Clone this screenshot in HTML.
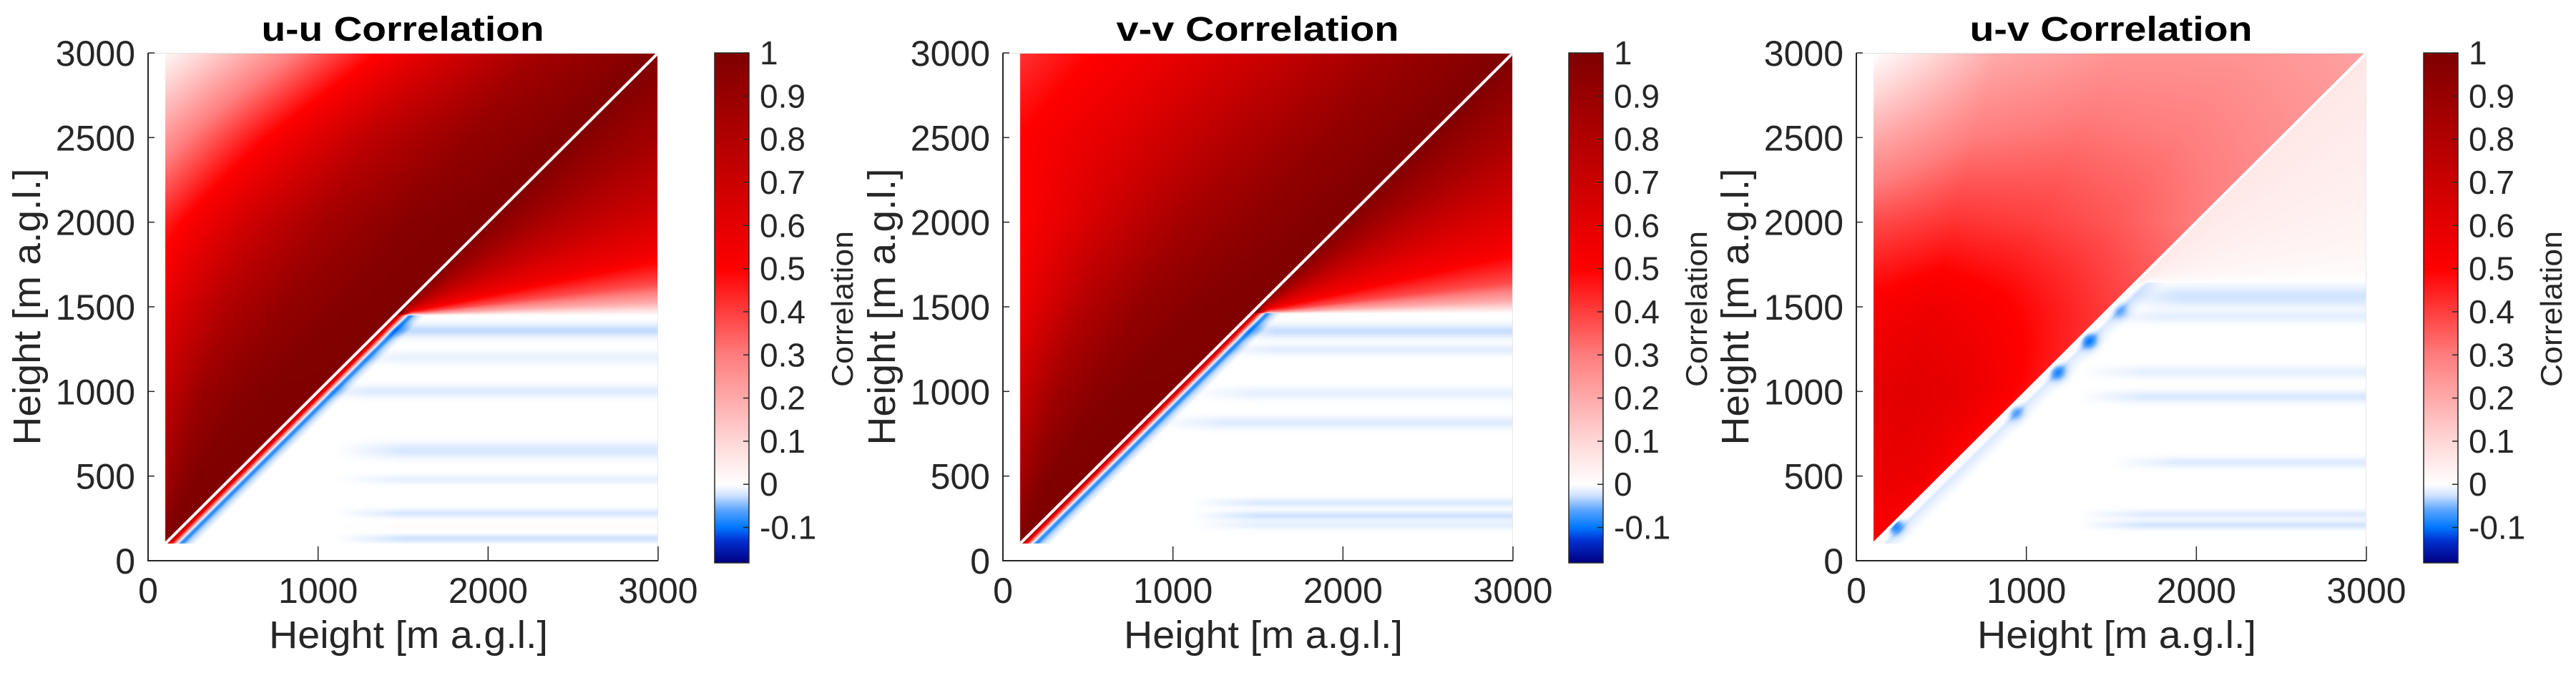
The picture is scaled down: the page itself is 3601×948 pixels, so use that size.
<!DOCTYPE html>
<html><head><meta charset="utf-8">
<style>
html,body{margin:0;padding:0;background:#fff;}
#root{position:relative;width:3601px;height:948px;overflow:hidden;background:#fff;}
canvas{position:absolute;}
svg{position:absolute;left:0;top:0;}
</style></head>
<body>
<div id="root">
<svg id="ov" width="3601" height="948"></svg>
</div>
<script>
// ---------- data ----------
const panelTitles = ["u-u Correlation","v-v Correlation","u-v Correlation"];
const xTicks = [0,1000,2000,3000];
const yTicks = [0,500,1000,1500,2000,2500,3000];
const cbTicks = [-0.1,0,0.1,0.2,0.3,0.4,0.5,0.6,0.7,0.8,0.9,1];
const cbTickLabels = ["-0.1","0","0.1","0.2","0.3","0.4","0.5","0.6","0.7","0.8","0.9","1"];
const cLimits = [-0.182, 1];
const upperRowHeights = [100,500,1000,1500,2000,2500,3000];
const upperColFrac = [0,0.25,0.5,0.75,1];
const uuUpper = [[1,1,1,1,1],[0.86,0.95,1,1,1],[0.73,0.9,0.97,1,1],[0.6,0.8,0.92,0.98,1],[0.45,0.68,0.86,0.97,1],[0.24,0.5,0.75,0.92,1],[0.02,0.28,0.58,0.85,1]];
const vvUpper = [[1,1,1,1,1],[0.85,0.95,1,1,1],[0.7,0.88,0.96,1,1],[0.56,0.78,0.92,0.98,1],[0.5,0.68,0.85,0.95,1],[0.5,0.62,0.78,0.92,1],[0.42,0.55,0.7,0.88,1]];
const uvUpper = [[0.5,0.5,0.5,0.5,0.5],[0.56,0.58,0.57,0.55,0.5],[0.6,0.62,0.6,0.55,0.48],[0.52,0.56,0.52,0.46,0.4],[0.38,0.42,0.4,0.36,0.3],[0.2,0.3,0.32,0.3,0.26],[0.0,0.2,0.25,0.25,0.22]];
const fanFrac = [0,0.05,0.12,0.25,0.45,0.7,1];
const uuFan = [0,0.2,0.38,0.56,0.72,0.87,1];
const vvFan = [0,0.2,0.38,0.53,0.68,0.85,1];
const uvFan = [0,0.01,0.02,0.03,0.04,0.05,0.06];
const cutHeights = [1450,1460,1640];
const stripeOffset = [0,30,60,75,95,120,180];
const uuStripe = [0.95,0.6,0.2,-0.03,-0.09,-0.04,0];
const vvStripe = [0.95,0.6,0.2,-0.03,-0.09,-0.04,0];
const uvStripe = [0.04,0.01,-0.01,-0.02,-0.015,-0.01,0];
const uuBandY = [1360,1200,1000,650,480,280,200,130];
const uuBandW = [40,35,35,45,25,25,25,25];
const uuBandV = [-0.03,-0.012,-0.018,-0.022,-0.014,-0.022,0.01,-0.026];
const uuBandX = [1500,1500,1300,1500,1500,1500,1500,1500];
const vvBandY = [1356,1246,989,815,342,266,211];
const vvBandW = [40,30,35,35,25,25,25];
const vvBandV = [-0.028,-0.016,-0.014,-0.018,-0.02,-0.026,-0.014];
const vvBandX = [1600,1600,1500,1300,1500,1500,1500];
const uvBandY = [1560,1441,1115,968,580,274,211];
const uvBandW = [60,35,35,35,30,25,25];
const uvBandV = [-0.025,-0.014,-0.014,-0.02,-0.018,-0.018,-0.024];
const uvBandX = [1900,1800,1700,1700,1900,1700,1700];
const uvBlobX = [1367,1182,934,223,1550];
const uvBlobY = [1301,1115,879,211,1480];
const uvBlobV = [-0.08,-0.07,-0.05,-0.1,-0.04];

const upperGrids=[uuUpper,vvUpper,uvUpper];
const fans=[uuFan,vvFan,uvFan];
const stripes=[uuStripe,vvStripe,uvStripe];
const bands=[[uuBandY,uuBandW,uuBandV,uuBandX],[vvBandY,vvBandW,vvBandV,vvBandX],[uvBandY,uvBandW,uvBandV,uvBandX]];
const blobs=[[[],[],[]],[[],[],[]],[uvBlobX,uvBlobY,uvBlobV]];

// ---------- layout ----------
const plotL=[207,1402,2595], plotW=713, plotT=74, plotB=784, plotH=plotB-plotT;
const cbL=[999,2193,3388], cbW=48, cbT=74, cbB=787;
const xs=v=>v/3000*plotW, ys=v=>plotB-v/3000*plotH;
const cy=v=>cbB-(v-cLimits[0])/(cLimits[1]-cLimits[0])*(cbB-cbT);

const cstops=[[-0.182,[0,0,128]],[-0.13,[0,50,210]],[-0.1,[0,120,255]],[-0.06,[90,165,255]],[-0.025,[210,228,255]],[0,[255,255,255]],[0.1,[255,215,215]],[0.3,[255,125,125]],[0.5,[255,0,0]],[0.75,[190,0,0]],[1,[128,0,0]]];
function cmap(v){
  if(v<=cstops[0][0])return cstops[0][1];
  for(let i=1;i<cstops.length;i++){if(v<=cstops[i][0]){const a=cstops[i-1],b=cstops[i],t=(v-a[0])/(b[0]-a[0]);return [a[1][0]+(b[1][0]-a[1][0])*t,a[1][1]+(b[1][1]-a[1][1])*t,a[1][2]+(b[1][2]-a[1][2])*t];}}
  return cstops[cstops.length-1][1];
}
function interp1(xa,ya,x){if(x<=xa[0])return ya[0];for(let i=1;i<xa.length;i++){if(x<=xa[i]){const t=(x-xa[i-1])/(xa[i]-xa[i-1]);return ya[i-1]+(ya[i]-ya[i-1])*t;}}return ya[ya.length-1];}
function upperVal(g,x,y){
  const s=Math.max(0,Math.min(1,(x-100)/Math.max(1,(y-100))));
  const col=upperRowHeights.map((h,i)=>interp1(upperColFrac,g[i],s));
  return interp1(upperRowHeights,col,y);
}
function lowerVal(p,x,y){
  const cut=cutHeights[p];let v=0;
  if(y>=cut){v=interp1(fanFrac,fans[p],(y-cut)/Math.max(1,x-cut));}
  const d=x-y;
  if(y<cut+40 && d<200){v+=interp1(stripeOffset,stripes[p],d)*(y<cut?1:Math.max(0,1-(y-cut)/40));}
  const [bY,bW,bV,bX]=bands[p];
  for(let i=0;i<bY.length;i++){const dy=(y-bY[i])/bW[i];if(Math.abs(dy)<3){const r=Math.max(0,Math.min(1,(x-bX[i]+400)/400));v+=bV[i]*Math.exp(-dy*dy)*r;}}
  const [kX,kY,kV]=blobs[p];
  for(let i=0;i<kX.length;i++){const dx=x-kX[i],dy=y-kY[i];v+=kV[i]*Math.exp(-(dx*dx+dy*dy)/(50*50));}
  return v;
}
const root=document.getElementById('root');
const svg=document.getElementById('ov');
const NS='http://www.w3.org/2000/svg';
function mk(tag,attrs,parent){const e=document.createElementNS(NS,tag);for(const k in attrs)e.setAttribute(k,attrs[k]);(parent||svg).appendChild(e);return e;}
function txt(s,attrs,parent){const e=mk('text',attrs,parent);e.textContent=s;return e;}

for(let p=0;p<3;p++){
  const L=plotL[p];
  const cv=document.createElement('canvas');
  
  
  cv.width=plotW;cv.height=plotH;cv.style.left=L+'px';cv.style.top=plotT+'px';
  root.insertBefore(cv,svg);
  const ctx=cv.getContext('2d');const img=ctx.createImageData(plotW,plotH);
  for(let j=0;j<plotH;j++){const y=(plotH-j-0.5)/plotH*3000;
    for(let i=0;i<plotW;i++){const x=(i+0.5)/plotW*3000;const k=(j*plotW+i)*4;
      if(x<100||y<100){img.data[k]=255;img.data[k+1]=255;img.data[k+2]=255;img.data[k+3]=255;continue;}
      const v=(y>=x)?upperVal(upperGrids[p],x,y):lowerVal(p,x,y);
      const c=cmap(v);img.data[k]=c[0];img.data[k+1]=c[1];img.data[k+2]=c[2];img.data[k+3]=255;}}
  ctx.putImageData(img,0,0);
  const cb=document.createElement('canvas');
  
  
  cb.width=cbW;cb.height=cbB-cbT;cb.style.left=cbL[p]+'px';cb.style.top=cbT+'px';
  root.insertBefore(cb,svg);
  const c2=cb.getContext('2d');
  for(let j=0;j<cbB-cbT;j++){const v=cLimits[1]-(j+0.5)/(cbB-cbT)*(cLimits[1]-cLimits[0]);const c=cmap(v);c2.fillStyle=`rgb(${c[0]|0},${c[1]|0},${c[2]|0})`;c2.fillRect(0,j,cbW,1);}

  const g=mk('g',{});
  
  
  const dl=mk('line',{x1:L+xs(100),y1:ys(100),x2:L+xs(3000),y2:ys(3000),stroke:'#fff','stroke-width':4},g);
  
  
  mk('line',{x1:L,y1:plotT+0.5,x2:L+plotW,y2:plotT+0.5,stroke:'#e0e0e0','stroke-width':1},g);
  mk('line',{x1:L+plotW-0.5,y1:plotT,x2:L+plotW-0.5,y2:plotB,stroke:'#e8e8e8','stroke-width':1},g);
  const ax=mk('path',{d:`M${L},${plotT} V${plotB} H${L+plotW}`,fill:'none',stroke:'#262626','stroke-width':2},g);
  
  
  xTicks.forEach((t,i)=>{
    mk('line',{x1:L+xs(t),y1:plotB,x2:L+xs(t),y2:plotB-20,stroke:'#262626','stroke-width':1.5},g);
    const e=txt(String(t),{x:L+xs(t),y:843,'text-anchor':'middle','font-family':'Liberation Sans, sans-serif','font-size':50,fill:'#262626'},g);
    
    
  });
  yTicks.forEach(t=>{
    mk('line',{x1:L,y1:ys(t),x2:L+9,y2:ys(t),stroke:'#262626','stroke-width':1.5},g);
    const e=txt(String(t),{x:L-18,y:ys(t)+18,'text-anchor':'end','font-family':'Liberation Sans, sans-serif','font-size':50,fill:'#262626'},g);
    
    
  });
  const ti=txt(panelTitles[p],{x:L+356,y:57,'text-anchor':'middle','font-family':'Liberation Sans, sans-serif','font-weight':'bold','font-size':48,fill:'#000',textLength:395,lengthAdjust:'spacingAndGlyphs'},g);
  
  
  const xl=txt('Height [m a.g.l.]',{x:L+364,y:906,'text-anchor':'middle','font-family':'Liberation Sans, sans-serif','font-size':54,fill:'#262626',textLength:390,lengthAdjust:'spacingAndGlyphs'},g);
  
  
  const ylx=L-170;
  const yl=txt('Height [m a.g.l.]',{x:0,y:0,'text-anchor':'middle','font-family':'Liberation Sans, sans-serif','font-size':54,fill:'#262626',textLength:387,lengthAdjust:'spacingAndGlyphs',transform:`translate(${ylx+19},429) rotate(-90)`},g);
  
  
  const cbf=mk('rect',{x:cbL[p],y:cbT,width:cbW,height:cbB-cbT,fill:'none',stroke:'#262626','stroke-width':1.5},g);
  
  
  cbTicks.forEach((t,i)=>{
    mk('line',{x1:cbL[p]+cbW,y1:cy(t),x2:cbL[p]+cbW-8,y2:cy(t),stroke:'#262626','stroke-width':1.5},g);
    const e=txt(cbTickLabels[i],{x:cbL[p]+63,y:cy(t)+16,'font-family':'Liberation Sans, sans-serif','font-size':46,fill:'#262626'},g);
    
    
  });
  const cl=txt('Correlation',{x:0,y:0,'text-anchor':'middle','font-family':'Liberation Sans, sans-serif','font-size':42,fill:'#262626',textLength:218,lengthAdjust:'spacingAndGlyphs',transform:`translate(${cbL[p]+178+15},432) rotate(-90)`},g);
  
  
}
</script>
</body></html>
